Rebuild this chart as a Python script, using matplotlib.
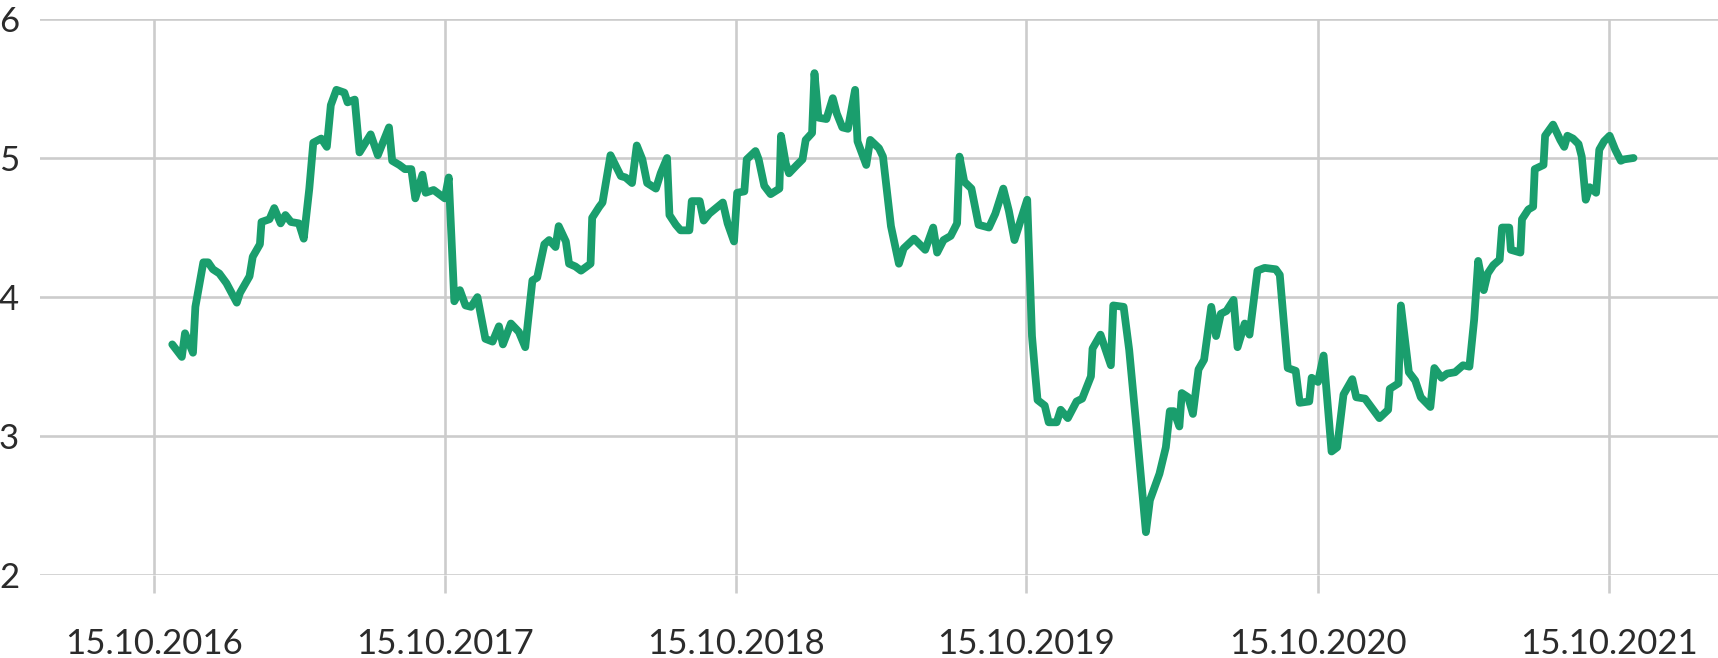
import matplotlib
matplotlib.use("Agg")
import matplotlib.pyplot as plt
import pandas as pd

dates = [
    "2016-11-07", "2016-11-19", "2016-11-23", "2016-12-03", "2016-12-06", "2016-12-16",
    "2016-12-22", "2016-12-28", "2017-01-05", "2017-01-14", "2017-01-27", "2017-01-31",
    "2017-02-12", "2017-02-16", "2017-02-25", "2017-02-27", "2017-03-09", "2017-03-15",
    "2017-03-23", "2017-03-29", "2017-04-05", "2017-04-15", "2017-04-21", "2017-04-28",
    "2017-05-03", "2017-05-13", "2017-05-20", "2017-05-25", "2017-06-01", "2017-06-11",
    "2017-06-15", "2017-06-24", "2017-06-30", "2017-07-14", "2017-07-23", "2017-08-06",
    "2017-08-10", "2017-08-19", "2017-08-26", "2017-09-03", "2017-09-08", "2017-09-17",
    "2017-09-21", "2017-10-01", "2017-10-15", "2017-10-20", "2017-10-27", "2017-11-03",
    "2017-11-10", "2017-11-17", "2017-11-25", "2017-12-05", "2017-12-14", "2017-12-22",
    "2017-12-27", "2018-01-06", "2018-01-16", "2018-01-24", "2018-02-02", "2018-02-08",
    "2018-02-17", "2018-02-23", "2018-03-03", "2018-03-07", "2018-03-16", "2018-03-20",
    "2018-03-28", "2018-04-04", "2018-04-16", "2018-04-18", "2018-04-27", "2018-05-01",
    "2018-05-11", "2018-05-24", "2018-05-30", "2018-06-07", "2018-06-13", "2018-06-20",
    "2018-06-26", "2018-07-07", "2018-07-13", "2018-07-21", "2018-07-24", "2018-08-01",
    "2018-08-07", "2018-08-18", "2018-08-21", "2018-08-31", "2018-09-05", "2018-09-12",
    "2018-09-29", "2018-10-05", "2018-10-13", "2018-10-17", "2018-10-26", "2018-10-29",
    "2018-11-09", "2018-11-13", "2018-11-20", "2018-11-28", "2018-12-09", "2018-12-11",
    "2018-12-17", "2018-12-21", "2018-12-31", "2019-01-07", "2019-01-11", "2019-01-19",
    "2019-01-22", "2019-01-27", "2019-02-06", "2019-02-14", "2019-02-19", "2019-02-26",
    "2019-03-05", "2019-03-14", "2019-03-17", "2019-03-28", "2019-04-02", "2019-04-13",
    "2019-04-18", "2019-04-28", "2019-05-08", "2019-05-14", "2019-05-27", "2019-06-10",
    "2019-06-20", "2019-06-25", "2019-07-03", "2019-07-12", "2019-07-20", "2019-07-23",
    "2019-07-29", "2019-08-07", "2019-08-16", "2019-08-29", "2019-09-06", "2019-09-16",
    "2019-09-23", "2019-09-30", "2019-10-05", "2019-10-16", "2019-10-22", "2019-10-26",
    "2019-10-29", "2019-11-07", "2019-11-12", "2019-11-22", "2019-11-27", "2019-12-06",
    "2019-12-17", "2019-12-24", "2020-01-04", "2020-01-06", "2020-01-16", "2020-01-29",
    "2020-02-01", "2020-02-14", "2020-02-21", "2020-03-01", "2020-03-13", "2020-03-18",
    "2020-03-30", "2020-04-07", "2020-04-12", "2020-04-17", "2020-04-24", "2020-04-27",
    "2020-05-05", "2020-05-11", "2020-05-18", "2020-05-25", "2020-06-03", "2020-06-09",
    "2020-06-15", "2020-06-22", "2020-07-01", "2020-07-06", "2020-07-15", "2020-07-21",
    "2020-07-31", "2020-08-09", "2020-08-23", "2020-08-28", "2020-09-07", "2020-09-17",
    "2020-09-22", "2020-10-04", "2020-10-07", "2020-10-15", "2020-10-22", "2020-11-01",
    "2020-11-08", "2020-11-16", "2020-11-27", "2020-12-02", "2020-12-13", "2020-12-22",
    "2020-12-31", "2021-01-11", "2021-01-13", "2021-01-24", "2021-01-27", "2021-02-01",
    "2021-02-06", "2021-02-14", "2021-02-21", "2021-03-05", "2021-03-10", "2021-03-19",
    "2021-03-26", "2021-04-05", "2021-04-15", "2021-04-23", "2021-04-29", "2021-05-04",
    "2021-05-11", "2021-05-16", "2021-05-23", "2021-05-31", "2021-06-03", "2021-06-12",
    "2021-06-14", "2021-06-26", "2021-06-28", "2021-07-06", "2021-07-12", "2021-07-14",
    "2021-07-25", "2021-07-27", "2021-08-06", "2021-08-15", "2021-08-20", "2021-08-24",
    "2021-08-31", "2021-09-07", "2021-09-11", "2021-09-16", "2021-09-21", "2021-09-29",
    "2021-10-03", "2021-10-09", "2021-10-16", "2021-10-23", "2021-10-30", "2021-11-03",
    "2021-11-15",
]
values = [
    3.66, 3.57, 3.74, 3.60, 3.93, 4.25,
    4.25, 4.20, 4.17, 4.10, 3.96, 4.03,
    4.15, 4.29, 4.38, 4.54, 4.56, 4.64,
    4.53, 4.59, 4.54, 4.53, 4.42, 4.78,
    5.11, 5.14, 5.08, 5.38, 5.49, 5.47,
    5.40, 5.42, 5.04, 5.17, 5.02, 5.22,
    4.98, 4.95, 4.92, 4.92, 4.71, 4.88,
    4.75, 4.77, 4.71, 4.86, 3.97, 4.05,
    3.94, 3.93, 4.00, 3.70, 3.68, 3.79,
    3.66, 3.81, 3.75, 3.64, 4.12, 4.14,
    4.38, 4.41, 4.36, 4.51, 4.40, 4.24,
    4.22, 4.19, 4.24, 4.57, 4.65, 4.68,
    5.02, 4.87, 4.86, 4.82, 5.09, 4.99,
    4.82, 4.78, 4.89, 5.00, 4.59, 4.52,
    4.48, 4.48, 4.69, 4.69, 4.55, 4.60,
    4.68, 4.53, 4.40, 4.75, 4.76, 4.99,
    5.05, 4.99, 4.80, 4.74, 4.78, 5.16,
    4.96, 4.89, 4.95, 4.99, 5.13, 5.18,
    5.61, 5.29, 5.28, 5.43, 5.32, 5.22,
    5.21, 5.49, 5.12, 4.95, 5.13, 5.07,
    5.01, 4.51, 4.24, 4.35, 4.42, 4.34,
    4.50, 4.32, 4.41, 4.44, 4.53, 5.01,
    4.83, 4.78, 4.52, 4.50, 4.60, 4.78,
    4.62, 4.41, 4.50, 4.70, 3.72, 3.45,
    3.26, 3.22, 3.10, 3.10, 3.19, 3.13,
    3.25, 3.27, 3.43, 3.63, 3.73, 3.51,
    3.94, 3.93, 3.62, 3.07, 2.31, 2.54,
    2.73, 2.92, 3.18, 3.18, 3.07, 3.31,
    3.28, 3.16, 3.48, 3.55, 3.93, 3.72,
    3.88, 3.90, 3.98, 3.64, 3.81, 3.73,
    4.19, 4.21, 4.20, 4.16, 3.49, 3.47,
    3.24, 3.25, 3.42, 3.39, 3.58, 2.89,
    2.92, 3.30, 3.41, 3.28, 3.27, 3.20,
    3.13, 3.19, 3.34, 3.38, 3.94, 3.70,
    3.46, 3.40, 3.28, 3.21, 3.49, 3.42,
    3.45, 3.46, 3.51, 3.50, 3.84, 4.26,
    4.05, 4.17, 4.23, 4.27, 4.50, 4.50,
    4.34, 4.32, 4.56, 4.63, 4.65, 4.92,
    4.95, 5.16, 5.24, 5.13, 5.08, 5.16,
    5.14, 5.10, 5.01, 4.70, 4.79, 4.75,
    5.06, 5.12, 5.16, 5.06, 4.98, 4.99,
    5.00,
]

tick_dates = ["2016-10-15", "2017-10-15", "2018-10-15", "2019-10-15", "2020-10-15", "2021-10-15"]
tick_labels = ["15.10.2016", "15.10.2017", "15.10.2018", "15.10.2019", "15.10.2020", "15.10.2021"]
y_ticks = [2, 3, 4, 5, 6]

plt.rcParams['font.family'] = ['Lato', 'DejaVu Sans']

W, H = 1718, 658
fig = plt.figure(figsize=(W / 100, H / 100), dpi=100)
# оси: слева 40 px под подписи, справа до края
ax = fig.add_axes([40 / W, 1 - 575.3 / H, 1 - 40 / W, (575.3 - 18.9) / H])

grid_color = '#cccccc'
ax.plot(pd.to_datetime(dates), values, color='#1a9e6d', lw=5.6,
        solid_capstyle='round', solid_joinstyle='round', zorder=3)

ax.set_xlim(pd.Timestamp("2016-05-25"), pd.Timestamp("2022-03-01"))
ax.set_ylim(2, 6)

ax.set_xticks(pd.to_datetime(tick_dates))
ax.set_xticklabels(tick_labels)
ax.set_yticks(y_ticks)
ax.set_yticklabels([str(v) for v in y_ticks])

ax.grid(True, color=grid_color, lw=1.9)
ax.set_axisbelow(True)
for s in ax.spines.values():
    s.set_visible(False)

ax.tick_params(axis='x', direction='out', length=13, width=1.9, color=grid_color,
               labelsize=25, labelcolor='#2b2b2b', pad=25)
ax.tick_params(axis='y', length=0, labelsize=25, labelcolor='#2b2b2b', pad=15)

fig.savefig('out.png', dpi=100, facecolor='white')
